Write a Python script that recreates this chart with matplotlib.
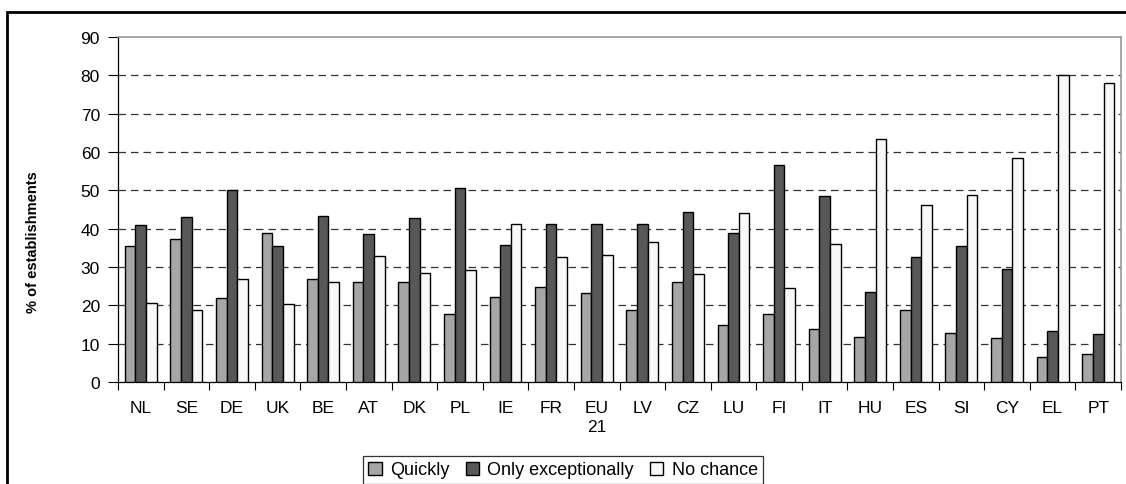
import numpy as np
import matplotlib.pyplot as plt
import matplotlib
from matplotlib.patches import Rectangle

matplotlib.rcParams.update({
    'font.family': 'sans-serif',
    'font.sans-serif': ['Liberation Sans', 'DejaVu Sans'],
    'font.size': 10,
})

countries = ['NL', 'SE', 'DE', 'UK', 'BE', 'AT', 'DK', 'PL', 'IE', 'FR', 'EU\n21',
             'LV', 'CZ', 'LU', 'FI', 'IT', 'HU', 'ES', 'SI', 'CY', 'EL', 'PT']
quickly = [35.5, 37.3, 22.0, 39.0, 27.0, 26.0, 26.0, 17.8, 22.2, 24.8, 23.2,
           18.8, 26.0, 15.0, 17.8, 13.8, 11.8, 18.8, 12.8, 11.5, 6.5, 7.4]
only_exc = [41.0, 43.0, 50.0, 35.5, 43.3, 38.5, 42.7, 50.5, 35.7, 41.2, 41.2,
            41.2, 44.3, 39.0, 56.5, 48.5, 23.5, 32.5, 35.5, 29.5, 13.2, 12.5]
no_chance = [20.5, 18.8, 27.0, 20.3, 26.0, 32.8, 28.5, 29.2, 41.3, 32.5, 33.2,
             36.6, 28.2, 44.0, 24.5, 36.0, 63.3, 46.2, 48.7, 58.5, 80.0, 78.0]

C_Q = '#a6a6a6'
C_O = '#585858'
C_N = '#f8f8f8'

fig = plt.figure(figsize=(11.26, 4.85), dpi=100)
ax = fig.add_axes([118 / 1126, 1 - 383 / 485, (1121 - 118) / 1126, (383 - 38) / 485])

x = np.arange(len(countries))
w = 0.233
ax.bar(x - w, quickly, w, color=C_Q, edgecolor='black', linewidth=1.0, label='Quickly', zorder=3)
ax.bar(x, only_exc, w, color=C_O, edgecolor='black', linewidth=1.0, label='Only exceptionally', zorder=3)
ax.bar(x + w, no_chance, w, color=C_N, edgecolor='black', linewidth=1.0, label='No chance', zorder=3)

ax.set_xlim(-0.5, len(countries) - 0.5)
ax.set_ylim(0, 90)
ax.set_yticks(range(0, 91, 10))
ax.tick_params(axis='y', direction='out', length=7, width=0.8, labelsize=12.5, pad=6)

ax.set_xticks(x)
ax.set_xticklabels(countries, fontsize=12.5, linespacing=1.3)
ax.tick_params(axis='x', which='major', length=0, pad=13)
ax.set_xticks(np.arange(-0.5, len(countries), 1.0), minor=True)
ax.tick_params(axis='x', which='minor', direction='out', length=6, width=0.8)

for yv in range(10, 90, 10):
    ax.axhline(yv, color='#333333', linestyle=(0, (6, 4)), linewidth=0.9, zorder=1)

ax.spines['top'].set_color('#999999')
ax.spines['right'].set_color('#999999')
ax.spines['top'].set_linewidth(1.2)
ax.spines['right'].set_linewidth(1.2)
ax.spines['left'].set_linewidth(0.9)
ax.spines['bottom'].set_linewidth(0.9)

ax.set_ylabel('% of establishments', fontsize=10.5, fontweight='bold')
ax.yaxis.set_label_coords(-0.078, (383 - 242) / 345)

leg = fig.legend(loc='upper center', bbox_to_anchor=(0.5, 1 - 457 / 485), ncol=3,
                 frameon=True, fancybox=False, edgecolor='black', fontsize=13,
                 handlelength=0.75, handleheight=0.75, handletextpad=0.45,
                 columnspacing=0.9, borderpad=0.3, borderaxespad=0)
leg.get_frame().set_linewidth(0.9)

fig.add_artist(Rectangle((6.5 / 1126, -0.1), 1.2, 1 - 12.5 / 485 + 0.1,
                         transform=fig.transFigure, fill=False,
                         edgecolor='black', linewidth=2.0))

fig.savefig('out.png', dpi=100)
